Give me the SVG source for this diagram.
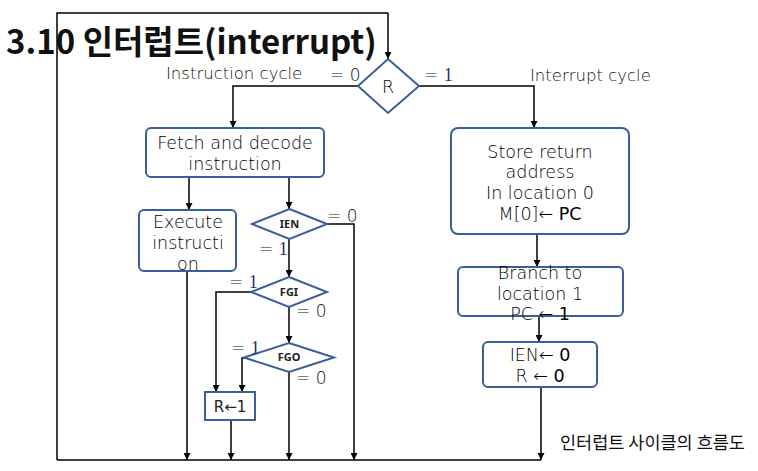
<svg xmlns="http://www.w3.org/2000/svg" width="758" height="471" viewBox="0 0 758 471">
<defs>
<marker id="ah" viewBox="0 0 10 10" refX="10" refY="5" markerWidth="7" markerHeight="7" orient="auto" markerUnits="userSpaceOnUse"><path d="M0,0 L10,5 L0,10 z" fill="#000"/></marker>
<style>
.n{fill:#fff;stroke:#3A5F9B;stroke-width:2}
.c{fill:none;stroke:#000;stroke-width:1.5}
.a{fill:none;stroke:#000;stroke-width:1.5;marker-end:url(#ah)}
.t{font-family:"DejaVu Sans","Noto Sans CJK KR",sans-serif;font-size:17.5px;fill:#000;text-anchor:middle;font-weight:200}
.l{font-family:"DejaVu Sans","Noto Sans CJK KR",sans-serif;font-size:16.5px;fill:#111;font-weight:200}
.s{font-family:"Noto Sans",sans-serif;font-size:11px;fill:#222;text-anchor:middle;font-weight:bold}
.q{font-family:"DejaVu Sans",sans-serif;font-size:17px;fill:#111;font-weight:200}
.b{font-weight:normal}
.one{font-family:"Liberation Serif",serif;fill:#1F2D6B;font-size:18px}
</style>
</defs>
<rect width="758" height="471" fill="#fff"/>
<text x="6" y="54" font-family="'Noto Sans CJK KR','Noto Sans',sans-serif" font-size="33" font-weight="bold" fill="#111">3.10 인터럽트(interrupt)</text>
<g id="connectors">
<polyline class="c" points="57,460 57,13 388,13"/>
<line class="a" x1="388" y1="13" x2="388" y2="59"/>
<polyline class="a" points="358,86 233,86 233,128"/>
<polyline class="a" points="419,86 534,86 534,128"/>
<line class="a" x1="189" y1="177" x2="189" y2="210"/>
<line class="a" x1="289" y1="177" x2="289" y2="209"/>
<polyline class="a" points="327,224 354,224 354,460"/>
<line class="a" x1="289" y1="239" x2="289" y2="277"/>
<polyline class="a" points="251,292 216,292 216,392"/>
<line class="a" x1="289" y1="307" x2="289" y2="343"/>
<polyline class="a" points="245,358 242,358 242,392"/>
<line class="a" x1="289" y1="372" x2="289" y2="460"/>
<line class="a" x1="187" y1="271" x2="187" y2="460"/>
<line class="a" x1="231" y1="420" x2="231" y2="460"/>
<line class="a" x1="537" y1="234" x2="537" y2="267"/>
<line class="a" x1="539" y1="316" x2="539" y2="342"/>
<line class="a" x1="541" y1="387" x2="541" y2="460"/>
<line class="c" x1="57" y1="460" x2="541" y2="460"/>
</g>
<g id="R">
<polygon class="n" points="388,59 419,86 388,113 358,86"/>
<text class="t" x="388" y="93">R</text>
</g>
<g id="fetch">
<rect class="n" x="146" y="128" width="178" height="49" rx="5"/>
<text class="t" x="235" y="149">Fetch and decode</text>
<text class="t" x="235" y="170">instruction</text>
</g>
<g id="execute">
<rect class="n" x="139" y="210" width="97" height="61" rx="5"/>
<text class="t" x="188" y="228">Execute</text>
<text class="t" x="188" y="249">instructi</text>
<text class="t" x="188" y="270">on</text>
</g>
<g id="IEN">
<polygon class="n" points="289.5,209 327,224 289.5,239 252,224"/>
<text class="s" x="289.5" y="228">IEN</text>
</g>
<g id="FGI">
<polygon class="n" points="289,277 327,292 289,307 251,292"/>
<text class="s" x="289" y="296">FGI</text>
</g>
<g id="FGO">
<polygon class="n" points="289,343 334,357.5 289,372 244,357.5"/>
<text class="s" x="289" y="361">FGO</text>
</g>
<g id="R1">
<rect x="205" y="392" width="50" height="28" fill="#fff" stroke="#3A5F9B" stroke-width="2"/>
<text x="230" y="412" font-family="'DejaVu Sans',sans-serif" font-size="15" fill="#222" text-anchor="middle">R←1</text>
</g>
<g id="store">
<rect class="n" x="451" y="128" width="178" height="106" rx="7"/>
<text class="t" x="540" y="158">Store return</text>
<text class="t" x="540" y="178">address</text>
<text class="t" x="540" y="199">In location 0</text>
<text class="t" x="540" y="220">M[0]← <tspan class="b">PC</tspan></text>
</g>
<g id="branch">
<rect class="n" x="458" y="267" width="165" height="49" rx="5"/>
<text class="t" x="540" y="279">Branch to</text>
<text class="t" x="540" y="300">location 1</text>
<text class="t" x="540" y="320">PC ← <tspan class="b">1</tspan></text>
</g>
<g id="ienbox">
<rect class="n" x="483" y="342" width="114" height="45" rx="5"/>
<text class="t" x="540" y="361">IEN← <tspan class="b">0</tspan></text>
<text class="t" x="540" y="382">R ← <tspan class="b">0</tspan></text>
</g>
<g id="labels">
<text class="l" x="166" y="79">Instruction cycle</text>
<text class="l" x="530" y="81">Interrupt cycle</text>
<text class="q" x="330" y="81">= 0</text>
<text class="q" x="424" y="81">= <tspan class="one">1</tspan></text>
<text class="q" x="327" y="222">= 0</text>
<text class="q" x="259" y="255">= <tspan class="one">1</tspan></text>
<text class="q" x="229" y="288">= <tspan class="one">1</tspan></text>
<text class="q" x="296" y="317">= 0</text>
<text class="q" x="231" y="354">= <tspan class="one">1</tspan></text>
<text class="q" x="296" y="384">= 0</text>
<text x="560" y="449" font-family="'Noto Sans CJK KR',sans-serif" font-size="17.5" fill="#111">인터럽트 사이클의 흐름도</text>
</g>
</svg>
